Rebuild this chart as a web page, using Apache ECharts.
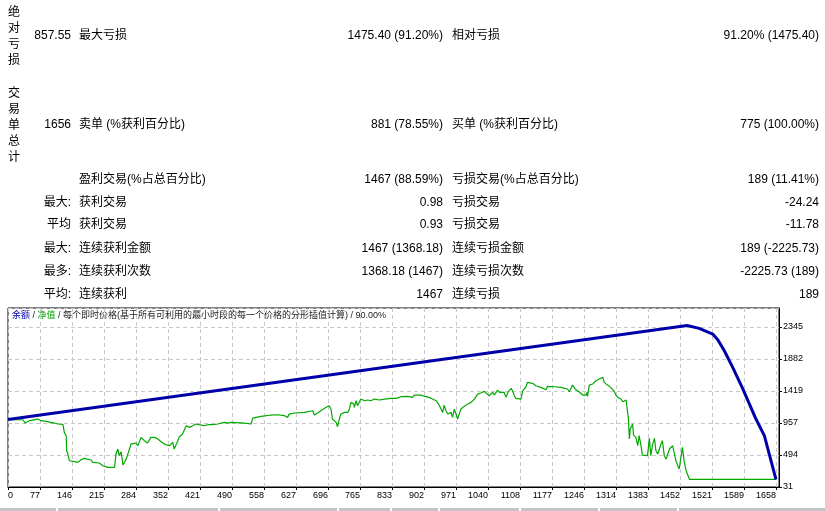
<!DOCTYPE html>
<html>
<head>
<meta charset="utf-8">
<title>余额 / 净值</title>
<script src="https://cdn.jsdelivr.net/npm/echarts@6.0.0/dist/echarts.min.js"></script>
<style>
body { margin: 0; background: #fff; }
#report { width: 825px; height: 511px; }
</style>
</head>
<body>
<div id="report"></div>
<script>
// 报告数据
var sideLabels = ['绝对亏损', '交易单总计'];
var summaryRows = [
	['857.55', '最大亏损', '1475.40 (91.20%)', '相对亏损', '91.20% (1475.40)'],
	['1656', '卖单 (%获利百分比)', '881 (78.55%)', '买单 (%获利百分比)', '775 (100.00%)'],
	['', '盈利交易(%占总百分比)', '1467 (88.59%)', '亏损交易(%占总百分比)', '189 (11.41%)'],
	['最大:', '获利交易', '0.98', '亏损交易', '-24.24'],
	['平均', '获利交易', '0.93', '亏损交易', '-11.78'],
	['最大:', '连续获利金额', '1467 (1368.18)', '连续亏损金额', '189 (-2225.73)'],
	['最多:', '连续获利次数', '1368.18 (1467)', '连续亏损次数', '-2225.73 (189)'],
	['平均:', '连续获利', '1467', '连续亏损', '189']
];
var chartTitle = '{b|余额} / {g|净值} / 每个即时价格(基于所有可利用的最小时段的每一个价格的分形插值计算) / 90.00%';

// 坐标轴刻度
var xLabels = [0, 77, 146, 215, 284, 352, 421, 490, 558, 627, 696, 765, 833, 902, 971, 1040, 1108, 1177, 1246, 1314, 1383, 1452, 1521, 1589, 1658];
var xMin = 8, xStep = 68.75, xMax = 1664.5;
var yLabels = [31, 494, 957, 1419, 1882, 2345];
var yMin = 31, yStep = 462.8, yMax = 2620;

// 余额 (交易单号, 金额)
var balance = [
	[8, 1007], [1467, 2368], [1493, 2325], [1522, 2243], [1533, 2160], [1547, 2002],
	[1565, 1761], [1586, 1462], [1601, 1231], [1615, 1014], [1633, 773], [1658, 142]
];

// 净值 (交易单号, 金额)
var equity = [
	[8, 1004], [40, 1004], [45, 956], [47, 942], [54, 990], [72, 1014], [79, 990], [90, 980], [100, 966],
	[108, 956], [115, 942], [126, 937], [129, 821], [133, 773], [134, 556], [136, 522], [140, 411],
	[144, 387], [151, 397], [158, 387], [165, 426], [172, 445], [187, 421], [190, 387], [204, 378],
	[212, 339], [222, 315], [237, 315], [240, 508], [244, 580], [247, 484], [251, 541], [255, 349],
	[258, 339], [262, 435], [269, 580], [272, 652], [283, 667], [287, 628], [294, 749], [301, 701],
	[308, 667], [315, 749], [323, 749], [330, 725], [337, 686], [344, 652], [355, 628], [358, 604],
	[362, 676], [365, 580], [369, 580], [373, 701], [376, 758], [383, 797], [391, 917], [398, 893],
	[405, 917], [412, 942], [416, 917], [423, 927], [430, 917], [437, 932], [448, 932], [451, 956],
	[459, 942], [466, 956], [473, 966], [480, 956], [487, 966], [516, 956], [530, 942], [534, 1028],
	[541, 1038], [552, 1052], [573, 1072], [587, 1076], [591, 1052], [602, 1062], [609, 1038], [612, 1086],
	[623, 1101], [645, 1110], [663, 1134], [666, 1072], [673, 1101], [680, 1134], [691, 1182], [698, 1207],
	[702, 1158], [705, 1014], [713, 966], [716, 903], [720, 1014], [723, 1086], [731, 1110], [738, 1110],
	[741, 1149], [745, 1255], [751, 1231], [752, 1182], [756, 1279], [759, 1207], [766, 1303], [774, 1279],
	[781, 1289], [788, 1279], [795, 1303], [806, 1289], [817, 1303], [831, 1313], [835, 1327], [842, 1313],
	[852, 1337], [867, 1342], [877, 1327], [881, 1361], [895, 1361], [903, 1342], [913, 1327], [920, 1303],
	[928, 1279], [931, 1303], [935, 1207], [938, 1183], [942, 1110], [945, 1216], [949, 1134], [953, 1086],
	[960, 1110], [963, 1038], [967, 1158], [971, 1168], [974, 1014], [978, 1004], [981, 1158], [988, 1197],
	[996, 1231], [1003, 1255], [1010, 1303], [1017, 1375], [1024, 1390], [1031, 1414], [1035, 1414],
	[1042, 1351], [1046, 1327], [1049, 1399], [1053, 1361], [1060, 1433], [1064, 1399], [1067, 1375],
	[1074, 1399], [1078, 1327], [1082, 1399], [1089, 1457], [1092, 1423], [1096, 1351], [1099, 1313],
	[1110, 1303], [1114, 1423], [1121, 1481], [1124, 1544], [1135, 1530], [1142, 1496], [1146, 1505],
	[1153, 1472], [1157, 1496], [1164, 1438], [1167, 1486], [1182, 1481], [1196, 1472], [1210, 1448],
	[1214, 1409], [1218, 1423], [1221, 1505], [1225, 1520], [1228, 1438], [1235, 1409], [1243, 1361],
	[1246, 1342], [1250, 1361], [1252, 1399], [1253, 1342], [1257, 1505], [1260, 1496], [1264, 1520],
	[1271, 1568], [1278, 1592], [1286, 1616], [1289, 1544], [1293, 1568], [1296, 1505], [1303, 1472],
	[1311, 1409], [1314, 1361], [1318, 1327], [1325, 1303], [1329, 1264], [1336, 1289], [1339, 1289],
	[1341, 1014], [1343, 725], [1345, 869], [1350, 942], [1352, 782], [1357, 749], [1361, 628], [1364, 773],
	[1368, 628], [1371, 493], [1375, 484], [1382, 484], [1386, 734], [1389, 484], [1393, 652], [1397, 734],
	[1400, 556], [1404, 508], [1407, 493], [1411, 652], [1414, 701], [1418, 484], [1422, 435], [1425, 435],
	[1429, 580], [1432, 604], [1436, 628], [1440, 604], [1443, 411], [1447, 339], [1450, 291], [1454, 315],
	[1457, 604], [1461, 387], [1465, 267], [1468, 243], [1472, 142], [1658, 142]
];

var FONT = '"Liberation Sans", "Noto Sans CJK SC", sans-serif';

var testerReport = {

	buildTable: function() { // 上方统计表格
		var els = [];
		var rowY = [36, 125, 180, 203, 225, 249, 272, 295];
		var colX = [71, 79, 443, 452, 819];
		var colAlign = ['right', 'left', 'right', 'left', 'right'];
		summaryRows.forEach(function(row, r) {
			row.forEach(function(txt, c) {
				if (!txt) return;
				els.push({
					type: 'text', x: colX[c], y: rowY[r], silent: true,
					style: {
						text: txt, font: '12px ' + FONT, fill: '#000',
						align: colAlign[c], verticalAlign: 'middle',
						textAlign: colAlign[c], textVerticalAlign: 'middle'
					}
				});
			});
		});
		sideLabels.forEach(function(txt, i) { // 竖排标签
			els.push({
				type: 'text', x: 14, y: rowY[i] + 1, silent: true,
				style: {
					text: txt.split('').join('\n'), font: '12px ' + FONT, fill: '#000', lineHeight: 16,
					align: 'center', verticalAlign: 'middle',
					textAlign: 'center', textVerticalAlign: 'middle'
				}
			});
		});
		// 图表标题
		els.push({
			type: 'text', x: 12, y: 316, silent: true,
			style: {
				text: chartTitle, font: '9px ' + FONT, fill: '#1a1a1a',
				verticalAlign: 'middle', textVerticalAlign: 'middle',
				rich: {
					b: { fill: '#0000aa', font: '9px ' + FONT },
					g: { fill: '#00a000', font: '9px ' + FONT }
				}
			}
		});
		// 底部标签栏
		els.push({ type: 'rect', silent: true, shape: { x: 0, y: 508, width: 825, height: 3 }, style: { fill: '#c4c4c4' } });
		[56, 218, 337, 390, 438, 519, 598, 677].forEach(function(sx) {
			els.push({ type: 'rect', silent: true, shape: { x: sx, y: 508, width: 2, height: 3 }, style: { fill: '#fff' } });
		});
		return els;
	},

	buildChart: function() { // 余额/净值曲线
		var myChart = echarts.init(document.getElementById('report'), null, { renderer: 'canvas' });
		var dash = { color: '#c8c8c8', width: 1, type: [4, 3] };
		var option = {
			animation: false,
			backgroundColor: '#fff',
			grid: {
				left: 8, top: 308, right: 46, bottom: 24,
				containLabel: false, outerBoundsMode: 'none',
				show: true, borderColor: '#000', borderWidth: 1, backgroundColor: '#fff'
			},
			xAxis: {
				type: 'value', min: xMin, max: xMax, interval: xStep,
				axisLine: { show: true, lineStyle: { color: '#000' } },
				axisTick: { show: true, length: 3, lineStyle: { color: '#000' } },
				splitLine: { show: true, lineStyle: dash },
				axisLabel: {
					margin: 4, fontSize: 9, fontFamily: FONT, color: '#000',
					align: 'right', alignMinLabel: 'left', showMaxLabel: false,
					formatter: function(v) {
						var i = Math.round((v - xMin) / xStep);
						if (Math.abs(v - (xMin + i * xStep)) > 1 || xLabels[i] === undefined) return '';
						return String(xLabels[i]);
					}
				}
			},
			yAxis: {
				type: 'value', position: 'right', min: yMin, max: yMax, interval: yStep,
				axisLine: { show: true, lineStyle: { color: '#000' } },
				axisTick: { show: true, length: 3, lineStyle: { color: '#000' } },
				splitLine: { show: true, lineStyle: dash },
				axisLabel: {
					margin: 4, fontSize: 9, fontFamily: FONT, color: '#000', showMaxLabel: false,
					formatter: function(v) {
						var i = Math.round((v - yMin) / yStep);
						if (Math.abs(v - (yMin + i * yStep)) > 1 || yLabels[i] === undefined) return '';
						return String(yLabels[i]);
					}
				}
			},
			series: [{
				name: '净值', type: 'line', data: equity, symbol: 'none', silent: true,
				lineStyle: { color: '#00a800', width: 1.2 }
			}, {
				name: '余额', type: 'line', data: balance, symbol: 'none', silent: true,
				lineStyle: { color: '#0000aa', width: 3 }
			}],
			graphic: { elements: this.buildTable() }
		};
		myChart.setOption(option);
	}
};

testerReport.buildChart();
</script>
</body>
</html>
